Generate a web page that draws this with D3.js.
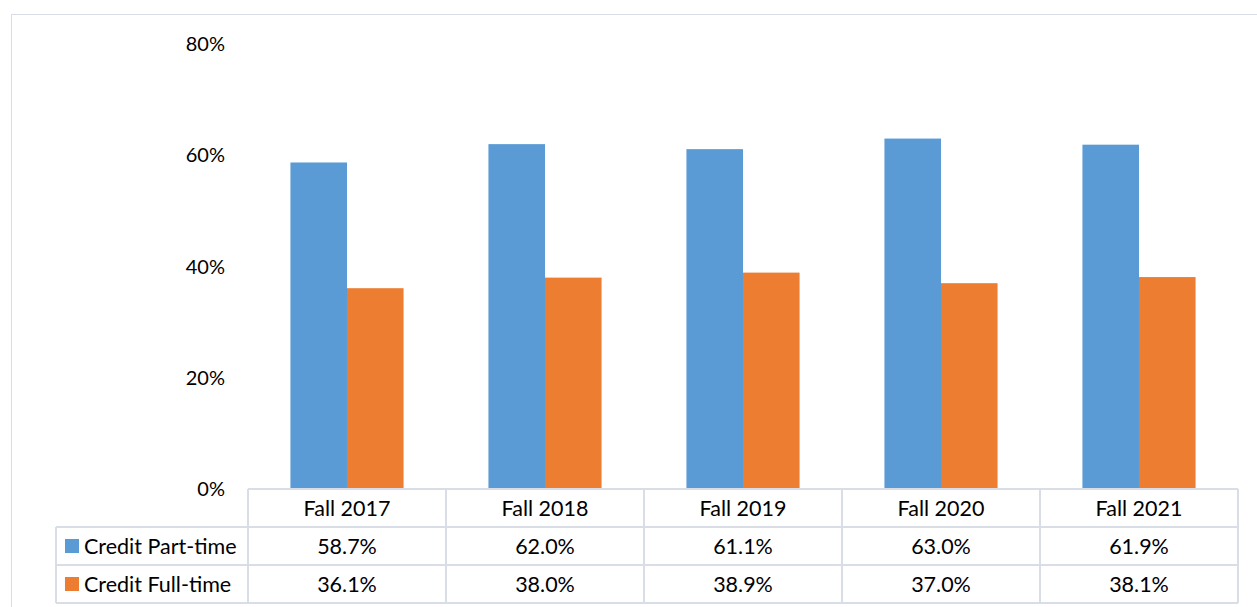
<!DOCTYPE html>
<html>
<head>
<meta charset="utf-8">
<script src="https://cdn.jsdelivr.net/npm/d3@7"></script>
<style>
  body { margin: 0; background: #fff; }
  svg text { font-family: Lato, "Open Sans", sans-serif; fill: #000; }
</style>
</head>
<body>
<div id="chart"></div>
<script>
// data
var years = ['Fall 2017', 'Fall 2018', 'Fall 2019', 'Fall 2020', 'Fall 2021']
var seriesNames = ['Credit Part-time', 'Credit Full-time']
var partTime = [58.7, 62.0, 61.1, 63.0, 61.9]
var fullTime = [36.1, 38.0, 38.9, 37.0, 38.1]
var yTicks = [0, 20, 40, 60, 80]
var colors = ['#5b9bd5', '#ed7d31']

var width = 1257, height = 607
var svg = d3.select('#chart').append('svg')
  .attr('width', width).attr('height', height)

// outer chart border
svg.append('rect')
  .attr('x', 11.5).attr('y', 14.5)
  .attr('width', 1300).attr('height', 700)
  .attr('fill', 'none').attr('stroke', '#d9dde6')

var plotLeft = 248, plotRight = 1238, plotTop = 44, plotBottom = 489

var x = d3.scaleBand().domain(years).range([plotLeft, plotRight])
var y = d3.scaleLinear().domain([0, 80]).range([plotBottom, plotTop])
var x1 = d3.scaleBand().domain([0, 1]).range([0, x.bandwidth()]).paddingInner(0).paddingOuter(0.75)

// y axis labels (no axis line)
svg.append('g').selectAll('text')
  .data(yTicks).enter().append('text')
  .attr('x', 225).attr('y', d => y(d))
  .attr('dy', '0.35em')
  .attr('text-anchor', 'end')
  .style('font-size', '20px')
  .text(d => d + '%')

// bars
var series = [partTime, fullTime]
series.forEach(function(vals, s) {
  svg.append('g').selectAll('rect')
    .data(vals).enter().append('rect')
    .attr('x', (d, i) => x(years[i]) + x1(s))
    .attr('y', d => y(d))
    .attr('width', x1.bandwidth())
    .attr('height', d => plotBottom - y(d))
    .attr('fill', colors[s])
})

// data table
var rowH = 38, tableLeft = 56, fs = '21.5px'
var rows = [plotBottom, plotBottom + rowH, plotBottom + 2 * rowH, plotBottom + 3 * rowH]
var grid = svg.append('g').attr('stroke', '#d9dde6').attr('stroke-width', 2).attr('fill', 'none')
// horizontal lines
grid.append('line').attr('x1', plotLeft).attr('x2', plotRight).attr('y1', rows[0]).attr('y2', rows[0])
rows.slice(1).forEach(function(r) {
  grid.append('line').attr('x1', tableLeft).attr('x2', plotRight).attr('y1', r).attr('y2', r)
})
// vertical lines
grid.append('line').attr('x1', tableLeft).attr('x2', tableLeft).attr('y1', rows[1]).attr('y2', rows[3])
years.forEach(function(yr) {
  grid.append('line').attr('x1', x(yr)).attr('x2', x(yr)).attr('y1', rows[0]).attr('y2', rows[3])
})
grid.append('line').attr('x1', plotRight).attr('x2', plotRight).attr('y1', rows[0]).attr('y2', rows[3])

// header row
svg.append('g').selectAll('text')
  .data(years).enter().append('text')
  .attr('x', d => x(d) + x.bandwidth() / 2)
  .attr('y', rows[0] + rowH / 2)
  .attr('dy', '0.35em')
  .attr('text-anchor', 'middle')
  .style('font-size', fs)
  .text(d => d)

// series rows
series.forEach(function(vals, s) {
  var top = rows[s + 1]
  svg.append('rect')
    .attr('x', 65).attr('y', top + rowH / 2 - 7)
    .attr('width', 14).attr('height', 14)
    .attr('fill', colors[s])
  svg.append('text')
    .attr('x', 84).attr('y', top + rowH / 2)
    .attr('dy', '0.35em')
    .style('font-size', fs)
    .text(seriesNames[s])
  svg.append('g').selectAll('text')
    .data(vals).enter().append('text')
    .attr('x', (d, i) => x(years[i]) + x.bandwidth() / 2)
    .attr('y', top + rowH / 2)
    .attr('dy', '0.35em')
    .attr('text-anchor', 'middle')
    .style('font-size', fs)
    .text(d => d.toFixed(1) + '%')
})
</script>
</body>
</html>
